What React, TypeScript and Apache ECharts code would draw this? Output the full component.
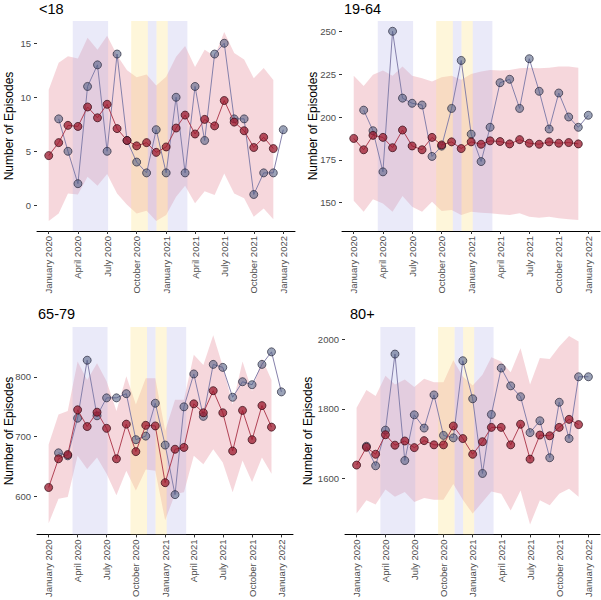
import React, { useEffect, useRef } from "react";
import * as echarts from "echarts";

// Months (first of month). Predicted: Jan 2020 - Dec 2021; Observed: Feb 2020 - Jan 2022
const months = [
  "2020-01", "2020-02", "2020-03", "2020-04", "2020-05", "2020-06", "2020-07", "2020-08",
  "2020-09", "2020-10", "2020-11", "2020-12", "2021-01", "2021-02", "2021-03", "2021-04",
  "2021-05", "2021-06", "2021-07", "2021-08", "2021-09", "2021-10", "2021-11", "2021-12", "2022-01",
];
const predMonths = months.slice(0, 24);
const obsMonths = months.slice(1, 25);

const tickLabels = [
  "January 2020", "April 2020", "July 2020", "October 2020",
  "January 2021", "April 2021", "July 2021", "October 2021", "January 2022",
];
const tickDates = [
  "2020-01-01", "2020-04-01", "2020-07-01", "2020-10-01",
  "2021-01-01", "2021-04-01", "2021-07-01", "2021-10-01", "2022-01-01",
];

// Restriction periods
const periodStarts = ["2020-03-16", "2020-09-14", "2020-11-05", "2020-12-02", "2021-01-06"];
const periodEnds = ["2020-07-04", "2020-11-05", "2020-12-02", "2021-01-06", "2021-03-08"];
const periodKinds = ["lockdown", "tier", "lockdown", "tier", "lockdown"];

// <18
const u18Pred = [4.6, 5.8, 7.4, 7.3, 9.1, 8.1, 9.35, 7.1, 6.0, 5.5, 5.8, 4.9, 5.4, 7.15, 8.35, 6.6, 7.95, 7.35, 9.7, 7.7, 6.9, 5.35, 6.3, 5.25];
const u18Obs = [8, 5, 2, 11, 13, 5, 14, 6, 4, 3, 7, 3, 10, 3, 11, 6, 14, 15, 8, 8, 1, 3, 3, 7];
const u18Upper = [10.7, 13.2, 13.8, 13.6, 15.5, 14.4, 15.7, 13.9, 12.5, 11.85, 12.1, 11.1, 11.9, 13.75, 14.75, 12.8, 14.4, 13.8, 16.05, 14.1, 13.5, 11.75, 12.7, 11.6];
const u18Lower = [-1.45, -0.75, 1.1, 1.0, 2.65, 1.8, 2.9, 1.1, 0.05, -0.75, -0.5, -1.45, -0.9, 0.8, 1.8, 0.2, 1.3, 0.95, 2.95, 1.1, 0.65, -1.05, -0.3, -1.3];

// 19-64
const a1964Pred = [187.5, 180.9, 189.3, 188.1, 182.1, 192.4, 183.1, 180.9, 188.1, 183.7, 185.5, 181.6, 185.5, 184.1, 186.1, 185.7, 184.3, 186.8, 184.7, 184.1, 185.5, 184.7, 185.1, 184.3];
const a1964Obs = [204, 192, 168, 250, 211, 208, 207, 177, 183, 205, 233, 190, 174, 194, 220, 222, 205, 234, 215, 193, 214, 200, 194, 201];
const a1964Upper = [224.0, 218.1, 224.6, 227.1, 224.0, 229.5, 224.0, 222.6, 220.7, 223.2, 224.0, 221.7, 225.1, 226.5, 227.4, 227.1, 227.4, 228.4, 228.8, 228.4, 228.8, 229.5, 229.5, 228.8];
const a1964Lower = [151.2, 144.7, 152.0, 149.6, 144.7, 153.9, 147.7, 144.7, 150.6, 145.1, 145.7, 142.8, 144.7, 144.2, 143.8, 143.2, 142.8, 143.8, 141.8, 141.2, 141.8, 140.9, 140.3, 139.9];

// 65-79
const a6579Pred = [615, 663, 670, 745, 717, 741, 714, 663, 721, 675, 719, 718, 623, 679, 682, 755, 740, 777, 740, 676, 744, 695, 752, 716];
const a6579Obs = [673, 668, 731, 828, 735, 765, 765, 772, 695, 701, 756, 686, 603, 750, 805, 734, 821, 816, 766, 792, 787, 821, 842, 775];
const a6579Upper = [687, 737, 743, 826, 795, 823, 793, 743, 801, 754, 798, 798, 710, 762, 762, 837, 820, 870, 818, 754, 826, 776, 831, 795];
const a6579Lower = [555, 596, 599, 668, 646, 665, 638, 602, 643, 610, 645, 643, 560, 604, 607, 668, 654, 679, 657, 607, 660, 624, 665, 638];

// 80+
const a80Pred = [1639, 1690, 1670, 1726, 1696, 1708, 1689, 1709, 1697, 1697, 1751, 1715, 1670, 1706, 1747, 1747, 1697, 1756, 1656, 1725, 1723, 1747, 1770, 1755];
const a80Obs = [1693, 1637, 1739, 1957, 1652, 1783, 1745, 1840, 1724, 1717, 1938, 1829, 1615, 1784, 1917, 1866, 1835, 1732, 1766, 1660, 1819, 1715, 1892, 1892];
const a80Upper = [1803, 1854, 1837, 1895, 1870, 1884, 1863, 1886, 1876, 1876, 1939, 1893, 1867, 1898, 1948, 1936, 1905, 1974, 1870, 1946, 1943, 1979, 2009, 1993];
const a80Lower = [1500, 1538, 1526, 1569, 1548, 1562, 1533, 1545, 1540, 1540, 1585, 1540, 1500, 1533, 1563, 1557, 1509, 1566, 1469, 1538, 1524, 1557, 1571, 1548];

const panelTitles = ["<18", "19-64", "65-79", "80+"];
const yTicks = [[0, 5, 10, 15], [150, 175, 200, 225, 250], [600, 700, 800], [1600, 1800, 2000]];
const yRanges = [[-2.38, 17.06], [133.5, 256.0], [536.4, 883.6], [1440.3, 2034.6]];

const BASE = Date.UTC(2020, 0, 1);
function dayOf(s: string): number {
  const p = s.split("-").map(Number);
  return (Date.UTC(p[0], p[1] - 1, p[2] || 1) - BASE) / 86400000;
}

const FONT = "Liberation Sans, Arial, sans-serif";

export default function App() {
  const ref = useRef<HTMLDivElement>(null);
  useEffect(() => {
    if (!ref.current) return;
    const chart = echarts.init(ref.current, null, { renderer: "svg" });

    const data = [
      { pred: u18Pred, obs: u18Obs, up: u18Upper, lo: u18Lower },
      { pred: a1964Pred, obs: a1964Obs, up: a1964Upper, lo: a1964Lower },
      { pred: a6579Pred, obs: a6579Obs, up: a6579Upper, lo: a6579Lower },
      { pred: a80Pred, obs: a80Obs, up: a80Upper, lo: a80Lower },
    ];
    const grids = [
      { left: 37, top: 21, width: 258, height: 210 },
      { left: 342, top: 21, width: 258, height: 210 },
      { left: 37, top: 327, width: 256, height: 209 },
      { left: 345, top: 327, width: 255, height: 209 },
    ];
    const titlePos = [[39, 9], [344, 9], [38, 314], [350, 314]];
    const yTitlePos = [[8.5, 126], [312.5, 126], [8.5, 431], [308, 431]];

    const predX = predMonths.map((m) => dayOf(m));
    const obsX = obsMonths.map((m) => dayOf(m));
    const tickX = tickDates.map(dayOf);
    const span = dayOf("2022-01-01");
    const xMin = -0.05 * span;
    const xMax = span * 1.05;

    const xAxis: any[] = [];
    const yAxis: any[] = [];
    const series: any[] = [];
    const graphic: any[] = [];

    for (let i = 0; i < 4; i++) {
      const d = data[i];
      xAxis.push({
        type: "value",
        gridIndex: i,
        min: xMin,
        max: xMax,
        splitLine: { show: false },
        axisLine: { show: true, onZero: false, lineStyle: { color: "#000", width: 1 } },
        axisTick: { show: true, length: 3, customValues: tickX, lineStyle: { color: "#333" } },
        axisLabel: {
          customValues: tickX,
          rotate: 90,
          margin: 5,
          fontSize: 9.5,
          fontFamily: FONT,
          color: "#4d4d4d",
          formatter: (v: number) => {
            let best = 0;
            for (let k = 0; k < tickX.length; k++) {
              if (Math.abs(tickX[k] - v) < Math.abs(tickX[best] - v)) best = k;
            }
            return tickLabels[best];
          },
        },
      });
      yAxis.push({
        type: "value",
        gridIndex: i,
        min: yRanges[i][0],
        max: yRanges[i][1],
        splitLine: { show: false },
        axisLine: { show: false, onZero: false },
        axisTick: { show: true, length: 3, customValues: yTicks[i], lineStyle: { color: "#333" } },
        axisLabel: {
          customValues: yTicks[i],
          margin: 6,
          fontSize: 9.5,
          fontFamily: FONT,
          color: "#4d4d4d",
          formatter: (v: number) => String(Math.round(v)),
        },
      });

      // ribbon (prediction interval) as a polygon through the axis scales
      const up = d.up;
      const lo = d.lo;
      series.push({
        type: "custom",
        xAxisIndex: i,
        yAxisIndex: i,
        data: up.map((v, k) => [predX[k], lo[k], v]),
        encode: { x: 0, y: [1, 2] },
        silent: true,
        clip: true,
        z: 0,
        renderItem: (params: any, api: any) => {
          if (params.dataIndex !== 0) return null;
          const pts: number[][] = [];
          for (let k = 0; k < up.length; k++) pts.push(api.coord([predX[k], up[k]]));
          for (let k = lo.length - 1; k >= 0; k--) pts.push(api.coord([predX[k], lo[k]]));
          return {
            type: "polygon",
            shape: { points: pts },
            style: { fill: "rgba(222,108,126,0.27)", stroke: "none" },
          };
        },
      });
      // restriction periods
      series.push({
        type: "line",
        xAxisIndex: i,
        yAxisIndex: i,
        data: d.pred.map((v, k) => [predX[k], v]),
        symbol: "none",
        lineStyle: { opacity: 0 },
        silent: true,
        z: 1,
        markArea: {
          silent: true,
          z: 1,
          data: periodStarts.map((s, k) => [
            {
              xAxis: dayOf(s),
              itemStyle: {
                color: periodKinds[k] === "lockdown" ? "rgba(178,178,232,0.28)" : "rgba(252,226,140,0.32)",
              },
            },
            { xAxis: dayOf(periodEnds[k]) },
          ]),
        },
      });
      // observed
      series.push({
        type: "line",
        xAxisIndex: i,
        yAxisIndex: i,
        data: d.obs.map((v, k) => [obsX[k], v]),
        symbol: "circle",
        symbolSize: 8,
        lineStyle: { color: "#8580ab", width: 1 },
        itemStyle: { color: "rgba(72,88,125,0.55)", borderColor: "rgba(35,35,55,0.85)", borderWidth: 0.8 },
        emphasis: { disabled: true },
        silent: true,
        z: 3,
      });
      // predicted
      series.push({
        type: "line",
        xAxisIndex: i,
        yAxisIndex: i,
        data: d.pred.map((v, k) => [predX[k], v]),
        symbol: "circle",
        symbolSize: 8,
        lineStyle: { color: "rgba(170,50,70,0.9)", width: 1 },
        itemStyle: { color: "rgba(155,25,45,0.75)", borderColor: "rgba(50,10,20,0.9)", borderWidth: 0.8 },
        emphasis: { disabled: true },
        silent: true,
        z: 4,
      });

      graphic.push({
        type: "text",
        x: titlePos[i][0],
        y: titlePos[i][1],
        style: {
          text: panelTitles[i],
          font: "14.5px " + FONT,
          fill: "#000",
          textAlign: "left",
          textVerticalAlign: "middle",
        },
      });
      graphic.push({
        type: "text",
        x: yTitlePos[i][0],
        y: yTitlePos[i][1],
        rotation: Math.PI / 2,
        style: {
          text: "Number of Episodes",
          font: "12px " + FONT,
          fill: "#000",
          textAlign: "center",
          textVerticalAlign: "middle",
        },
      });
    }

    chart.setOption({
      animation: false,
      backgroundColor: "#fff",
      grid: grids,
      xAxis,
      yAxis,
      series,
      graphic,
    });
    return () => chart.dispose();
  }, []);

  return (
    <div
      ref={ref}
      style={{ position: "fixed", left: 0, top: 0, width: 601, height: 600, background: "#fff" }}
    />
  );
}
